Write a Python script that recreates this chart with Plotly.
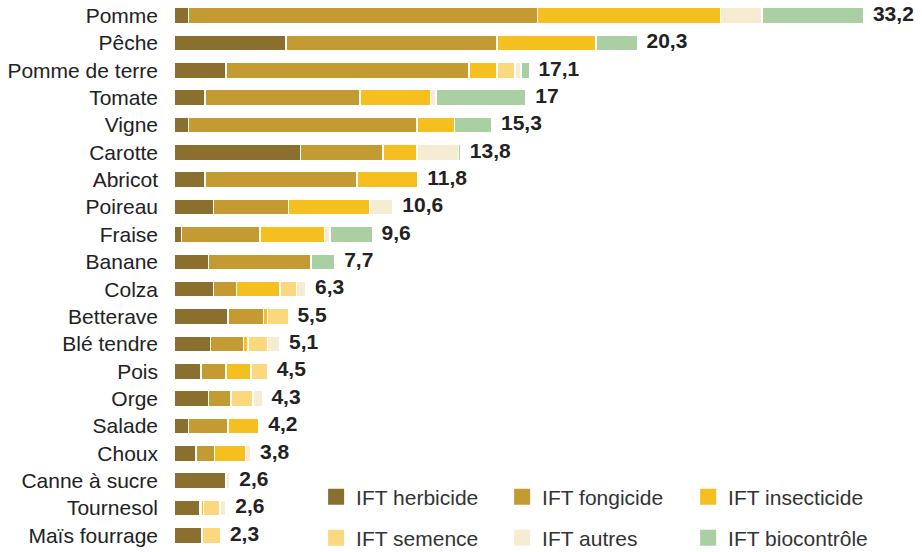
import plotly.graph_objects as go

categories = ["Pomme", "Pêche", "Pomme de terre", "Tomate", "Vigne", "Carotte", "Abricot",
              "Poireau", "Fraise", "Banane", "Colza", "Betterave", "Blé tendre", "Pois",
              "Orge", "Salade", "Choux", "Canne à sucre", "Tournesol", "Maïs fourrage"]

herbicide   = [0.7, 5.4, 2.5, 1.5, 0.7, 6.1, 1.5, 1.9, 0.35, 1.65, 1.9, 2.6, 1.75, 1.3, 1.65, 0.7, 1.05, 2.5, 1.25, 1.35]
fongicide   = [16.8, 10.15, 11.7, 7.45, 11.0, 3.95, 7.3, 3.6, 3.8, 4.95, 1.1, 1.7, 1.6, 1.2, 1.1, 1.9, 0.9, 0, 0.08, 0]
insecticide = [8.8, 4.75, 1.35, 3.4, 1.8, 1.65, 2.95, 3.9, 3.1, 0, 2.1, 0.2, 0.2, 1.2, 0, 1.5, 1.5, 0, 0.08, 0]
semence     = [0, 0, 0.85, 0, 0, 0, 0, 0, 0, 0, 0.8, 1.0, 0.95, 0.8, 1.05, 0, 0, 0, 0.8, 0.9]
autres      = [2.0, 0, 0.3, 0.25, 0, 2.0, 0, 1.15, 0.25, 0, 0.45, 0, 0.6, 0, 0.45, 0, 0.25, 0.2, 0.3, 0]
biocontrole = [4.9, 2.0, 0.4, 4.35, 1.8, 0.1, 0, 0, 2.05, 1.15, 0, 0, 0, 0, 0, 0, 0, 0, 0, 0]

total_labels = ["33,2", "20,3", "17,1", "17", "15,3", "13,8", "11,8", "10,6", "9,6", "7,7",
                "6,3", "5,5", "5,1", "4,5", "4,3", "4,2", "3,8", "2,6", "2,6", "2,3"]

series_names = ["IFT herbicide", "IFT fongicide", "IFT insecticide",
                "IFT semence", "IFT autres", "IFT biocontrôle"]
series_values = [herbicide, fongicide, insecticide, semence, autres, biocontrole]
colors = ["#8a6f2e", "#c49a32", "#f5bf1f", "#fbd77e", "#f5ecd2", "#a9cfa2"]

FONT = "Liberation Sans, Arial, Helvetica, sans-serif"

fig = go.Figure()
for name, vals, col in zip(series_names, series_values, colors):
    fig.add_trace(go.Bar(
        y=categories, x=vals, orientation="h", name=name,
        marker=dict(color=col, line=dict(color="white", width=1.5)),
        showlegend=False, hoverinfo="skip"))

# legend entries (square swatches)
for i, (name, col) in enumerate(zip(series_names, colors)):
    fig.add_trace(go.Scatter(
        x=[None], y=[None], mode="markers", name=name,
        marker=dict(symbol="square", size=16, color=col),
        legend="legend" if i < 3 else "legend2"))

# totals written at the end of each stacked bar (invisible marker sets the gap)
totals = [round(sum(v[i] for v in series_values), 3) for i in range(len(categories))]
fig.add_trace(go.Scatter(
    x=totals, y=categories, mode="markers+text", text=total_labels,
    marker=dict(size=13, color="rgba(0,0,0,0)"),
    textposition="middle right", cliponaxis=False, showlegend=False,
    textfont=dict(family=FONT, size=21, color="#222222", weight="bold")))

legend_common = dict(orientation="h", xanchor="left", yanchor="middle",
                     traceorder="normal",
                     font=dict(family=FONT, size=21, color="#333333"),
                     entrywidth=141, itemsizing="trace", bgcolor="rgba(0,0,0,0)",
                     borderwidth=0)

fig.update_layout(
    width=922, height=552,
    margin=dict(l=174, r=0, t=2, b=3, autoexpand=False),
    barmode="stack", bargap=0.41,
    plot_bgcolor="white", paper_bgcolor="white",
    hovermode=False,
    xaxis=dict(range=[0, 36.0], visible=False, fixedrange=True, automargin=False),
    yaxis=dict(range=[len(categories) - 0.5, -0.5], showgrid=False, showline=False,
               ticks="", zeroline=False,
               automargin=False, ticklabelstandoff=15, fixedrange=True,
               tickfont=dict(family=FONT, size=21, color="#222222")),
    legend=dict(x=0.19, y=0.095, **legend_common),
    legend2=dict(x=0.19, y=0.020, **legend_common),
    font=dict(family=FONT),
)

fig.write_html("out.html", config={"displayModeBar": False, "staticPlot": True},
               post_script="document.body.style.margin='0';document.body.style.overflow='hidden';")
